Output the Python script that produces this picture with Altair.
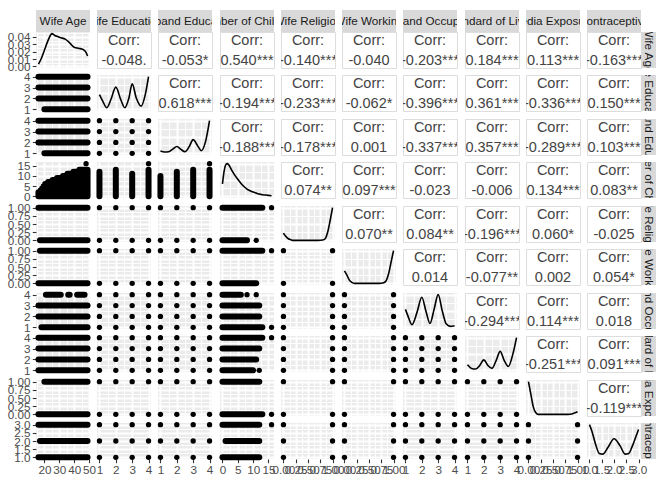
import json
import math
import altair as alt
import pandas as pd

# ---------------- data ----------------
VARS = ["Wife Age", "Wife Education", "Husband Education", "Number of Children",
        "Wife Religion", "Wife Working", "Husband Occupation", "Standard of Living",
        "Media Exposure", "Contraceptive"]

DATA_MIN = [16, 1, 1, 0, 0, 0, 1, 1, 0, 1]
DATA_MAX = [49, 4, 4, 16, 1, 1, 4, 4, 1, 3]

MAJOR = [[20, 30, 40, 50], [1, 2, 3, 4], [1, 2, 3, 4], [0, 5, 10, 15],
         [0, 0.25, 0.5, 0.75, 1], [0, 0.25, 0.5, 0.75, 1], [1, 2, 3, 4], [1, 2, 3, 4],
         [0, 0.25, 0.5, 0.75, 1], [1, 1.5, 2, 2.5, 3]]
MINOR = [[15, 25, 35, 45], [1.5, 2.5, 3.5], [1.5, 2.5, 3.5], [2.5, 7.5, 12.5],
         [0.125, 0.375, 0.625, 0.875], [0.125, 0.375, 0.625, 0.875], [1.5, 2.5, 3.5], [1.5, 2.5, 3.5],
         [0.125, 0.375, 0.625, 0.875], [1.25, 1.75, 2.25, 2.75]]
FMT = ["d", "d", "d", "d", ".2f", ".2f", "d", "d", ".2f", ".1f"]

LEVELS = {1: [1, 2, 3, 4], 2: [1, 2, 3, 4], 4: [0, 1], 5: [0, 1], 6: [1, 2, 3, 4],
          7: [1, 2, 3, 4], 8: [0, 1], 9: [1, 2, 3]}

CORR_ROWS = [
    ["-0.048.", "-0.053*", "0.540***", "-0.140***", "-0.040", "-0.203***", "0.184***", "0.113***", "-0.163***"],
    ["0.618***", "-0.194***", "-0.233***", "-0.062*", "-0.396***", "0.361***", "-0.336***", "0.150***"],
    ["-0.188***", "-0.178***", "0.001", "-0.337***", "0.357***", "-0.289***", "0.103***"],
    ["0.074**", "0.097***", "-0.023", "-0.006", "0.134***", "0.083**"],
    ["0.070**", "0.084**", "-0.196***", "0.060*", "-0.025"],
    ["0.014", "-0.077**", "0.002", "0.054*"],
    ["-0.294***", "0.114***", "0.018"],
    ["-0.251***", "0.091***"],
    ["-0.119***"],
]

# density of Wife Age (diagonal, real units)
AGE_DENS_X = [16, 18, 20, 22, 24, 25, 27, 29, 31, 34, 37, 40, 43, 46, 48, 49]
AGE_DENS_Y = [0.003, 0.011, 0.022, 0.033, 0.042, 0.0445, 0.042, 0.0405, 0.039, 0.037, 0.032,
              0.026, 0.0245, 0.023, 0.019, 0.014]
DENS_MAJOR = [0, 0.01, 0.02, 0.03, 0.04]
DENS_MINOR = [0.005, 0.015, 0.025, 0.035, 0.045]

# other diagonal densities (relative to their maximum)
DIAG_X = {
    1: [1, 1.2, 1.45, 1.7, 2, 2.3, 2.55, 2.8, 3, 3.25, 3.55, 3.8, 4],
    2: [1, 1.25, 1.5, 1.75, 2, 2.25, 2.5, 2.75, 3, 3.25, 3.5, 3.75, 4],
    3: [0, 0.5, 1, 1.5, 2, 3, 4, 5, 6, 7, 8, 9, 10, 11, 12, 13, 14, 15, 16],
    4: [0, 0.05, 0.1, 0.15, 0.2, 0.3, 0.5, 0.7, 0.8, 0.85, 0.9, 0.95, 1],
    5: [0, 0.05, 0.1, 0.15, 0.2, 0.3, 0.5, 0.7, 0.8, 0.85, 0.9, 0.95, 1],
    6: [1, 1.15, 1.4, 1.7, 2, 2.25, 2.5, 2.75, 3, 3.25, 3.5, 3.75, 4],
    7: [1, 1.25, 1.5, 1.75, 2, 2.25, 2.5, 2.75, 3, 3.25, 3.5, 3.75, 4],
    8: [0, 0.05, 0.1, 0.15, 0.2, 0.3, 0.5, 0.7, 0.8, 0.9, 0.95, 1],
    9: [1, 1.1, 1.25, 1.4, 1.55, 1.75, 2, 2.25, 2.45, 2.6, 2.75, 2.9, 3],
}
DIAG_Y = {
    1: [0.45, 0.25, 0.05, 0.3, 0.68, 0.3, 0.05, 0.35, 0.78, 0.35, 0.1, 0.45, 1.0],
    2: [0.07, 0.04, 0.05, 0.13, 0.21, 0.12, 0.05, 0.2, 0.42, 0.25, 0.08, 0.35, 1.0],
    3: [0.38, 0.75, 0.95, 1.0, 0.97, 0.8, 0.65, 0.52, 0.4, 0.3, 0.22, 0.17, 0.13, 0.1, 0.07, 0.05, 0.04, 0.03, 0.02],
    4: [0.22, 0.12, 0.05, 0.02, 0.0, 0.0, 0.0, 0.0, 0.01, 0.05, 0.25, 0.6, 1.0],
    5: [0.38, 0.25, 0.1, 0.03, 0.0, 0.0, 0.0, 0.0, 0.02, 0.08, 0.3, 0.65, 1.0],
    6: [0.55, 0.35, 0.08, 0.45, 0.92, 0.5, 0.12, 0.55, 1.0, 0.5, 0.1, 0.03, 0.05],
    7: [0.17, 0.06, 0.04, 0.15, 0.32, 0.15, 0.06, 0.3, 0.58, 0.3, 0.12, 0.45, 1.0],
    8: [1.0, 0.6, 0.22, 0.05, 0.0, 0.0, 0.0, 0.0, 0.0, 0.02, 0.05, 0.08],
    9: [1.0, 0.8, 0.4, 0.12, 0.1, 0.3, 0.57, 0.35, 0.1, 0.12, 0.35, 0.65, 0.85],
}
REL_MAJOR = [0, 0.5, 1]
REL_MINOR = [0.25, 0.75]

# Wife Age on x: (level, first age, last age)
AGE_SEGS = {
    1: [(4, 16, 49), (3, 16, 49), (2, 16, 49), (1, 20, 49)],
    2: [(4, 16, 49), (3, 16, 49), (2, 16, 49), (1, 20, 49)],
    4: [(1, 16, 49), (0, 17, 49)],
    5: [(1, 17, 49), (0, 16, 49)],
    6: [(4, 21, 31), (4, 36, 37), (4, 42, 47), (3, 16, 49), (2, 16, 49), (1, 18, 49)],
    7: [(4, 16, 49), (3, 16, 49), (2, 16, 49), (1, 16, 49)],
    8: [(1, 20, 49), (0, 16, 49)],
    9: [(3, 16, 49), (2, 17, 49), (1, 16, 49)],
}
# Wife Age vs Number of Children: largest number of children seen at each age
AGE_VALUES = [16, 17, 18, 19, 20, 21, 22, 23, 24, 25, 26, 27, 28, 29, 30, 31, 32,
              33, 34, 35, 36, 37, 38, 39, 40, 41, 42, 43, 44, 45, 46, 47, 48, 49]
AGE_MAX_CHILDREN = [2, 2, 3, 4, 5, 6, 6, 7, 7, 7, 8, 8, 8, 9, 9, 9, 9,
                    10, 10, 10, 11, 11, 11, 11, 12, 12, 12, 12, 13, 13, 12, 13, 13, 13]
AGE_CHILD_DOTS = [(48, 16)]

# Number of Children on x: (level, from, to) and isolated points (level, children)
CHILD_SEGS = {
    4: [(1, 0, 13), (0, 0, 8)],
    5: [(1, 0, 13), (0, 0, 11)],
    6: [(4, 0, 6), (3, 0, 12), (2, 0, 12), (1, 0, 13)],
    7: [(4, 0, 13), (3, 0, 12), (2, 0, 11), (1, 0, 10)],
    8: [(1, 0, 12), (0, 0, 13)],
    9: [(3, 0, 12), (2, 1, 12), (1, 0, 12)],
}
CHILD_DOTS = {
    4: [(1, 16), (0, 11)],
    5: [(1, 16)],
    6: [(4, 8), (4, 11), (1, 16)],
    7: [(4, 16), (1, 12)],
    8: [(0, 16)],
    9: [(3, 16)],
}
# Number of Children on y (columns Wife / Husband Education)
CHILD_VSEGS = {
    1: [(1, 0, 12), (2, 0, 13), (3, 0, 11), (4, 0, 13)],
    2: [(1, 0, 10), (2, 0, 12), (3, 0, 13), (4, 0, 13)],
}
CHILD_VDOTS = {1: [(4, 16)], 2: [(4, 16)]}

# ---------------- layout / style ----------------
W, H = 54, 36
COL_GAPS = [7, 7, 8, 7, 7, 7, 8, 7, 7]
ROW_GAPS = [7, 8, 7, 8, 7, 8, 7, 8, 7]
HS, RS = 22, 15
FONT = "Liberation Sans"
PT = 6
DOT_SIZE = math.pi * (PT / 2) ** 2
GRAY_BG = alt.ViewBackground(fill="#EBEBEB", strokeWidth=0)
SPACER_DF = pd.DataFrame({"a": [0]})


def make_axis(majors, minors, fmt, show, orient):
    test = f"indexof({json.dumps(minors)}, datum.value) >= 0"
    kw = dict(values=sorted(majors + minors), grid=True, gridColor="white",
              gridWidth={"condition": {"test": test, "value": 0.95}, "value": 1.9},
              domain=False, title=None, orient=orient)
    if show:
        kw.update(labels=True, ticks=True, format=fmt,
                  labelExpr=f"{test} ? '' : datum.label",
                  tickOpacity={"condition": {"test": test, "value": 0}, "value": 1})
    else:
        kw.update(labels=False, ticks=False)
    return alt.Axis(**kw)


def var_scale(v):
    lo, hi = DATA_MIN[v], DATA_MAX[v]
    p = 0.05 * (hi - lo)
    return alt.Scale(domain=[lo - p, hi + p], nice=False, zero=False)


def X(field, v, show):
    return alt.X(field, type="quantitative", scale=var_scale(v),
                 axis=make_axis(MAJOR[v], MINOR[v], FMT[v], show, "bottom"))


def Y(field, v, show):
    return alt.Y(field, type="quantitative", scale=var_scale(v),
                 axis=make_axis(MAJOR[v], MINOR[v], FMT[v], show, "left"))


def rules(df, i, j, vertical=False):
    base = alt.Chart(df).mark_rule(color="black", strokeWidth=PT, strokeCap="round")
    if vertical:
        return base.encode(x=X("x", j, i == 9), y=Y("y", i, j == 0), y2=alt.Y2("y2"))
    return base.encode(x=X("x", j, i == 9), x2=alt.X2("x2"), y=Y("y", i, j == 0))


def dots(df, i, j):
    return alt.Chart(df).mark_circle(color="black", opacity=1, size=DOT_SIZE).encode(
        x=X("x", j, i == 9), y=Y("y", i, j == 0))


def lower(i, j):
    layers = []
    if j == 0 and i == 3:
        df = pd.DataFrame({"x": AGE_VALUES, "y": AGE_MAX_CHILDREN})
        layers.append(alt.Chart(df).mark_area(color="black", stroke="black", strokeWidth=PT,
                                              strokeJoin="round", interpolate="step").encode(
            x=X("x", j, i == 9), y=Y("y", i, j == 0), y2=alt.datum(0)))
        layers.append(dots(pd.DataFrame(AGE_CHILD_DOTS, columns=["x", "y"]), i, j))
    elif j == 0:
        layers.append(rules(pd.DataFrame(AGE_SEGS[i], columns=["y", "x", "x2"]), i, j))
    elif j == 3:
        layers.append(rules(pd.DataFrame(CHILD_SEGS[i], columns=["y", "x", "x2"]), i, j))
        layers.append(dots(pd.DataFrame(CHILD_DOTS[i], columns=["y", "x"]), i, j))
    elif i == 3:
        layers.append(rules(pd.DataFrame(CHILD_VSEGS[j], columns=["x", "y", "y2"]), i, j, vertical=True))
        layers.append(dots(pd.DataFrame(CHILD_VDOTS[j], columns=["x", "y"]), i, j))
    else:
        pts = [(a, b) for a in LEVELS[j] for b in LEVELS[i]]
        layers.append(dots(pd.DataFrame(pts, columns=["x", "y"]), i, j))
    return alt.layer(*layers).properties(width=W, height=H, view=GRAY_BG)


def diag(i):
    if i == 0:
        df = pd.DataFrame({"x": AGE_DENS_X, "y": AGE_DENS_Y})
        m = max(AGE_DENS_Y)
        y = alt.Y("y", type="quantitative", scale=alt.Scale(domain=[-0.05 * m, 1.05 * m], nice=False, zero=False),
                  axis=make_axis(DENS_MAJOR, DENS_MINOR, ".2f", True, "left"))
    else:
        df = pd.DataFrame({"x": DIAG_X[i], "y": DIAG_Y[i]})
        y = alt.Y("y", type="quantitative", scale=alt.Scale(domain=[-0.05, 1.05], nice=False, zero=False),
                  axis=make_axis(REL_MAJOR, REL_MINOR, ".2f", False, "left"))
    return alt.Chart(df).mark_line(color="black", strokeWidth=1.6, interpolate="monotone").encode(
        x=X("x", i, i == 9), y=y).properties(width=W, height=H, view=GRAY_BG)


def upper(i, j):
    df = pd.DataFrame({"line": [0, 1], "t": ["Corr:", CORR_ROWS[i][j - i - 1]]})
    return alt.Chart(df).mark_text(clip=True, font=FONT, fontSize=14.5, color="#444444").encode(
        x=alt.value(W / 2),
        y=alt.Y("line:Q", scale=alt.Scale(domain=[0, 1], range=[9, 29]), axis=None),
        text="t:N",
    ).properties(width=W, height=H,
                 view=alt.ViewBackground(fill="white", stroke="#DDDDDD", strokeWidth=1))


def top_strip(j):
    return alt.Chart(pd.DataFrame({"t": [VARS[j]]})).mark_text(
        clip=True, font=FONT, fontSize=11.7, color="#1A1A1A").encode(
        x=alt.value(W / 2), y=alt.value(HS / 2), text="t:N"
    ).properties(width=W, height=HS, view=alt.ViewBackground(fill="#D9D9D9", strokeWidth=0))


def right_strip(i):
    return alt.Chart(pd.DataFrame({"t": [VARS[i]]})).mark_text(
        clip=True, font=FONT, fontSize=11.7, color="#1A1A1A", angle=90).encode(
        x=alt.value(RS / 2), y=alt.value(H / 2), text="t:N"
    ).properties(width=RS, height=H, view=alt.ViewBackground(fill="#D9D9D9", strokeWidth=0))


def spacer(w, h):
    return alt.Chart(SPACER_DF).mark_point(opacity=0).encode(
        x=alt.value(0), y=alt.value(0)).properties(width=w, height=h)


cells = []
for r in range(20):
    for c in range(20):
        cgap = COL_GAPS[(c - 1) // 2] if (c % 2 == 1 and c != 19) else None
        if r == 0:
            if c == 19:
                cells.append(spacer(RS, 1))
            elif c % 2 == 0:
                cells.append(top_strip(c // 2))
            else:
                cells.append(spacer(cgap, 1))
        elif r % 2 == 1:
            i = (r - 1) // 2
            if c == 19:
                cells.append(right_strip(i))
            elif c % 2 == 0:
                j = c // 2
                if j > i:
                    cells.append(upper(i, j))
                elif j == i:
                    cells.append(diag(i))
                else:
                    cells.append(lower(i, j))
            else:
                cells.append(spacer(cgap, 1))
        else:
            rgap = ROW_GAPS[r // 2 - 1]
            if cgap is not None:
                cells.append(spacer(cgap, rgap))
            else:
                cells.append(spacer(1, rgap))

chart = alt.concat(*cells, columns=20, spacing=0, align="each", bounds="flush").properties(
    padding={"left": 7, "top": 7, "right": 5, "bottom": 2},
    background="white",
).configure_view(strokeWidth=0).configure_axis(
    labelFont=FONT, labelFontSize=11.7, labelColor="#4D4D4D", tickColor="#333333",
    tickSize=3.7, tickWidth=1.1, labelPadding=2.2, labelFlush=False, labelOverlap=False,
)

chart.save("out.html", embed_options={"renderer": "svg", "actions": False})
